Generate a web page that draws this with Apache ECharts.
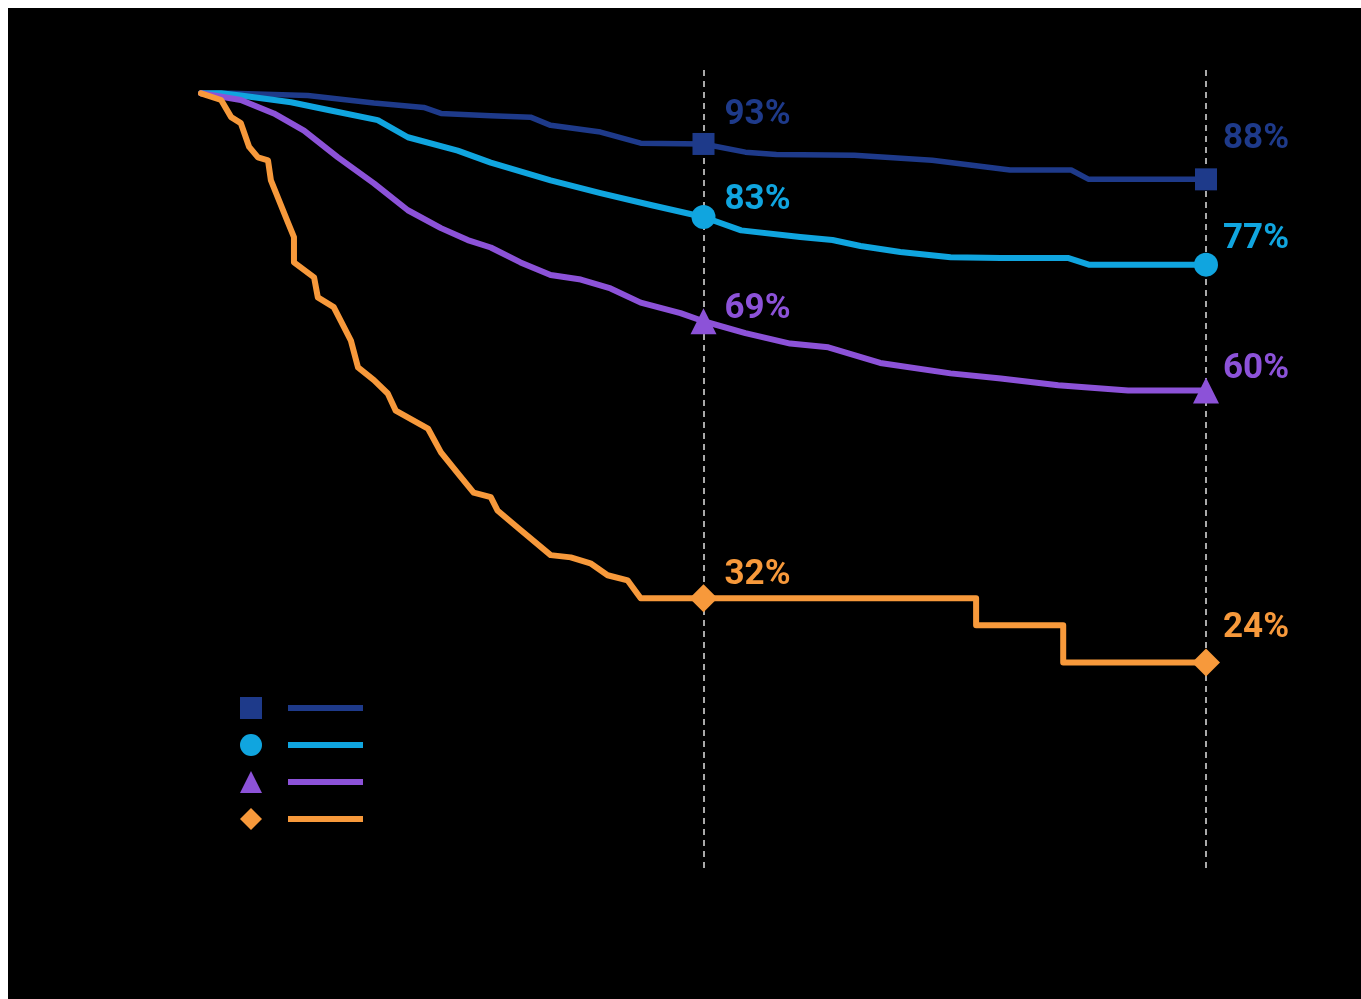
<!DOCTYPE html>
<html>
<head>
<meta charset="utf-8">
<script src="https://cdn.jsdelivr.net/npm/echarts@6/dist/echarts.min.js"></script>
<style>
html,body{margin:0;padding:0;background:#fff;}
#wrap{position:relative;width:1361px;height:999px;background:#fff;overflow:hidden;}
#chart{position:absolute;left:8px;top:8px;width:1353px;height:991px;background:#000;}
</style>
</head>
<body>
<div id="wrap"><div id="chart"></div></div>
<script>
// Survival curves: [month, percent]
const seriesNames = ['Group A', 'Group B', 'Group C', 'Group D'];
const groupA = [[0,100],[0.72,100],[2.55,99.7],[4.13,98.7],[5.32,98.1],[5.73,97.3],[6.92,97.0],[7.87,96.8],[8.35,95.7],[9.54,94.8],[10.5,93.3],[12,93.2],[13.0,92.1],[13.74,91.8],[15.6,91.7],[17.46,91.0],[19.32,89.7],[20.78,89.7],[21.2,88.45],[24,88.45]];
const groupB = [[0,100],[0.48,100],[0.95,99.7],[2.15,98.8],[3.1,97.7],[4.22,96.4],[4.94,94.1],[6.13,92.3],[6.92,90.7],[8.35,88.3],[9.54,86.6],[10.74,85.0],[12,83.4],[12.9,81.6],[14.31,80.7],[15.08,80.3],[15.75,79.5],[16.7,78.7],[17.9,78.0],[19.1,77.9],[20.7,77.9],[21.2,77.0],[24,77.0]];
const groupC = [[0,100],[0.95,99.1],[1.74,97.3],[2.46,95.0],[3.27,91.4],[4.13,87.9],[4.94,84.3],[5.73,81.9],[6.37,80.3],[6.92,79.3],[7.63,77.3],[8.35,75.6],[9.07,75.0],[9.78,73.8],[10.5,71.9],[11.45,70.5],[12,69.4],[13,67.8],[14.07,66.4],[14.98,65.9],[16.22,63.8],[17.9,62.4],[19.1,61.7],[20.47,60.8],[22.14,60.1],[24,60.1]];
const groupD = [[0,100],[0.48,99.1],[0.72,96.8],[0.95,96.0],[1.15,92.8],[1.36,91.4],[1.6,91.0],[1.67,88.3],[2.08,82.6],[2.22,80.7],[2.22,77.3],[2.7,75.3],[2.79,72.6],[3.17,71.3],[3.58,66.8],[3.75,63.2],[4.13,61.5],[4.46,59.7],[4.65,57.4],[5.42,55.0],[5.73,51.8],[6.13,49.0],[6.51,46.4],[6.92,45.8],[7.08,44.0],[7.56,41.7],[8.35,38.0],[8.83,37.7],[9.3,36.9],[9.71,35.3],[10.19,34.6],[10.5,32.2],[12,32.2],[18.51,32.2],[18.51,28.6],[20.59,28.6],[20.59,23.6],[24,23.6]];
const markerMonths = [12, 24];

// styles
const curves = [groupA, groupB, groupC, groupD];
const colors = ['#1e3a8a', '#10a5df', '#8c52d8', '#f7993b'];
const symbols = ['rect', 'circle', 'triangle', 'diamond'];
const symbolSizes = [22, 24, 26, 28];
const lineWidths = [5.5, 6, 6, 6];
const labelDy = [[-29, -40], [-17, -25], [-12, -21], [-23, -34]];
const labelDx = [21, 17];

function valueAt(curve, m) {
  const p = curve.find(d => d[0] === m);
  return p ? p[1] : null;
}

const series = [];
curves.forEach((c, i) => {
  const s = {
    name: seriesNames[i],
    type: 'line',
    data: c,
    symbol: 'none',
    lineStyle: { color: colors[i], width: lineWidths[i], join: 'round', cap: 'round' },
    itemStyle: { color: colors[i] },
    z: 2
  };
  if (i === 0) {
    s.markLine = {
      silent: true,
      symbol: ['none', 'none'],
      label: { show: false },
      lineStyle: { color: '#a9a9a9', type: [6, 5], width: 2 },
      emphasis: { disabled: true },
      data: markerMonths.map(m => ({ xAxis: m }))
    };
  }
  series.push(s);
});
curves.forEach((c, i) => {
  series.push({
    name: 'marker-' + i,
    type: 'scatter',
    symbol: symbols[i],
    symbolSize: symbolSizes[i],
    itemStyle: { color: colors[i], opacity: 1 },
    z: 5,
    data: markerMonths.map((m, k) => ({
      value: [m, valueAt(c, m)],
      label: {
        show: true,
        position: 'inside',
        align: 'left',
        verticalAlign: 'middle',
        offset: [labelDx[k], labelDy[i][k]],
        formatter: p => Math.round(p.value[1]) + '%',
        color: colors[i],
        fontFamily: 'Roboto',
        fontWeight: 'bold',
        fontSize: 35
      }
    }))
  });
});

const chart = echarts.init(document.getElementById('chart'));
chart.setOption({
  backgroundColor: '#000',
  animation: false,
  grid: { left: 193, right: 155, top: 57, bottom: 131 },
  xAxis: { type: 'value', min: 0, max: 24, show: false },
  yAxis: { type: 'value', min: -4, max: 103.8, show: false },
  legend: [
    {
      orient: 'vertical', left: 232, top: 689, padding: 0,
      itemWidth: 22, itemHeight: 22, itemGap: 15,
      selectedMode: false,
      textStyle: { fontSize: 1, color: '#000' },
      formatter: () => '',
      data: seriesNames.map((n, i) => ({ name: n, icon: symbols[i] }))
    },
    {
      orient: 'vertical', left: 280, top: 697, padding: 0,
      itemWidth: 75, itemHeight: 6, itemGap: 31,
      selectedMode: false,
      textStyle: { fontSize: 1, color: '#000' },
      formatter: () => '',
      data: seriesNames.map(n => ({ name: n, icon: 'rect' }))
    }
  ],
  series: series
});
</script>
</body>
</html>
